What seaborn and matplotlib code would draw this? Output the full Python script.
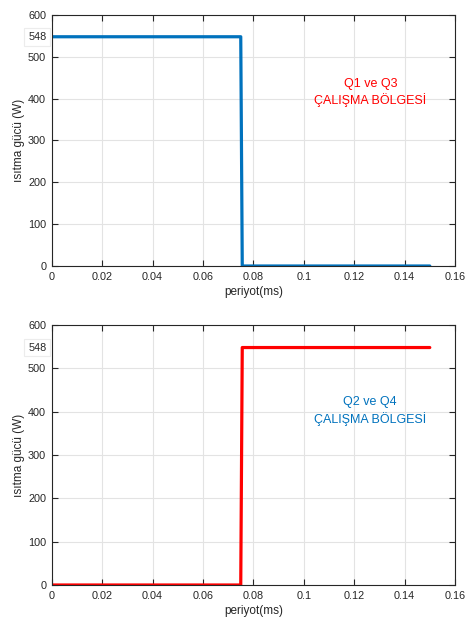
import matplotlib
matplotlib.use("Agg")
import matplotlib.pyplot as plt
import matplotlib.transforms as mtransforms
import seaborn as sns
import pandas as pd

# data
t_top = [0, 0.075, 0.0756, 0.15]
p_top = [548, 548, 0, 0]
t_bot = [0, 0.075, 0.0756, 0.15]
p_bot = [0, 0, 548, 548]
xticks = [0, 0.02, 0.04, 0.06, 0.08, 0.1, 0.12, 0.14, 0.16]
xticklabels = ["0", "0.02", "0.04", "0.06", "0.08", "0.1", "0.12", "0.14", "0.16"]
yticks = [0, 100, 200, 300, 400, 500, 600]
peak = 548

sns.set_theme(style="whitegrid")
plt.rcParams['font.family'] = ['Liberation Sans', 'DejaVu Sans']

fig = plt.figure(figsize=(4.69, 6.23), dpi=100)
W, H = 469, 623
ax1 = fig.add_axes([51.7 / W, 1 - 266 / H, (455 - 51.7) / W, (266 - 15) / H])
ax2 = fig.add_axes([51.7 / W, 1 - 585 / H, (455 - 51.7) / W, (585 - 325) / H])

panels = [
    (ax1, t_top, p_top, "#0072BD", "Q1 ve Q3\nÇALIŞMA BÖLGESİ", "#FF0000", 0.69),
    (ax2, t_bot, p_bot, "#FF0000", "Q2 ve Q4\nÇALIŞMA BÖLGESİ", "#0072BD", 0.669),
]

for ax, t, p, lc, txt, tc, ty in panels:
    df = pd.DataFrame({"t": t, "p": p})
    sns.lineplot(data=df, x="t", y="p", ax=ax, color=lc, linewidth=2.3, sort=False)
    ax.set_xlim(0, 0.16)
    ax.set_ylim(0, 600)
    ax.set_xticks(xticks)
    ax.set_xticklabels(xticklabels)
    ax.set_yticks(yticks)
    ax.set_facecolor("white")
    ax.grid(True, color="#e3e3e3", linewidth=0.8)
    for s in ax.spines.values():
        s.set_visible(True)
        s.set_color("#262626")
        s.set_linewidth(0.8)
    ax.tick_params(axis="both", which="both", direction="in", length=4, width=0.8,
                   colors="#262626", labelsize=7.8, top=True, right=True,
                   bottom=True, left=True, pad=4)
    ax.tick_params(axis="both", labelcolor="#262626")
    ax.set_xlabel("periyot(ms)", fontsize=8.5, color="#262626", labelpad=3)
    ax.set_ylabel("ısıtma gücü (W)", fontsize=8.5, color="#262626", labelpad=2)
    ax.text(0.79, ty, txt, transform=ax.transAxes, ha="center", va="center",
            color=tc, fontsize=9, linespacing=1.3)
    trans = mtransforms.blended_transform_factory(ax.transAxes, ax.transData)
    ax.text(-0.013, peak, str(peak), transform=trans, ha="right", va="center",
            fontsize=7.8, color="#262626",
            bbox=dict(boxstyle="square,pad=0.35", facecolor="white",
                      edgecolor="#ececec", linewidth=0.8))

fig.savefig("out.png", dpi=100, facecolor="white")
